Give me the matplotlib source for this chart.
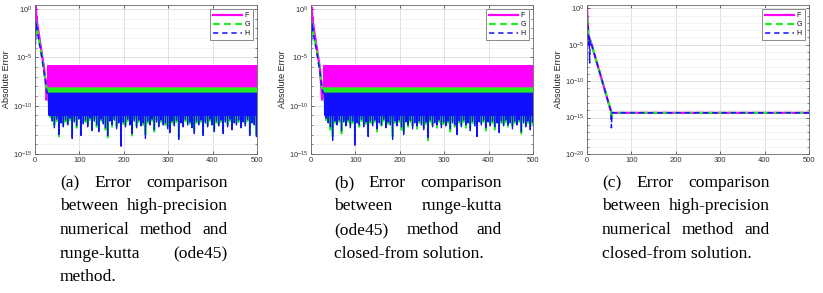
import numpy as np
import matplotlib
matplotlib.use("Agg")
import matplotlib.pyplot as plt
from matplotlib.ticker import FixedLocator, LogFormatterSciNotation, NullFormatter

# log10 of the absolute error
# start of the run (x = time)
a_head_x = [0, 1, 2, 3, 4, 5, 8, 12, 16, 20, 24, 26, 28]
a_f_head = [0.4, -0.5, 0.2, -1.0, -0.8, -1.5, -2.4, -3.6, -4.8, -6.0, -7.6, -9.4, -8.8]
a_g_head = [-1.0, -2.8, -1.2, -2.0, -1.8, -2.3, -3.0, -4.0, -5.1, -6.3, -7.5, -8.2, -8.4]
a_h_head = [-1.2, -3.6, -1.3, -2.2, -1.9, -2.4, -3.1, -4.1, -5.2, -6.4, -7.6, -8.4, -8.7]

b_head_x = [0, 1, 2, 3, 4, 5, 8, 12, 16, 20, 23, 25, 28]
b_f_head = [0.4, -0.6, 0.1, -1.1, -0.9, -1.6, -2.5, -3.7, -4.9, -6.1, -8.0, -9.4, -8.8]
b_g_head = [-1.1, -2.9, -1.3, -2.1, -1.9, -2.4, -3.1, -4.1, -5.2, -6.4, -7.4, -8.1, -8.4]
b_h_head = [-1.3, -3.7, -1.4, -2.3, -2.0, -2.5, -3.2, -4.2, -5.3, -6.5, -7.5, -8.3, -8.7]

# steady part from x = 30: every 5 units each series swings top -> floor -> top -> trough
tail_start = 30
tail_step = 5
a_f_top, a_g_top, a_h_top = -5.9, -8.2, -8.7
a_f_floor, a_g_floor, a_h_floor = -8.8, -10.8, -11.0
a_f_low = -8.8
a_g_low = [-11.2, -11.4, -12.0, -11.6, -13.2, -11.5, -12.0, -11.7, -11.8, -11.5,
           -13.0, -11.5, -12.3, -11.2, -12.8, -11.7, -11.7, -12.0, -11.5, -12.4,
           -11.4, -12.2, -12.5, -11.6, -11.7, -12.5, -13.3, -11.4, -12.2, -11.3,
           -12.2, -11.6, -13.8, -11.9, -12.0, -11.6, -11.8, -13.1, -11.4, -12.1,
           -11.7, -11.9, -12.0, -13.0, -11.8, -11.8, -11.6, -12.7, -11.5, -12.0,
           -11.7, -11.8, -12.0, -12.2, -12.5, -11.8, -11.9, -11.7, -13.3, -11.6,
           -12.0, -11.6, -11.8, -11.9, -12.1, -12.6, -11.8, -11.8, -11.7, -12.9,
           -11.6, -12.0, -11.6, -11.8, -12.5, -11.8, -11.9, -11.7, -12.7, -11.5,
           -12.0, -11.6, -12.3, -11.6, -11.8, -11.7, -12.1, -11.5, -11.9, -11.6,
           -12.9, -11.6, -11.8, -13.0, -11.8]
a_h_low = [-11.0, -11.6, -12.3, -11.4, -13.0, -11.8, -12.2, -11.5, -12.0, -11.3,
           -13.4, -11.7, -12.1, -11.4, -13.1, -11.9, -11.5, -12.2, -11.3, -12.6,
           -11.6, -12.0, -12.7, -11.4, -11.9, -12.3, -13.1, -11.6, -12.0, -11.5,
           -12.4, -11.8, -14.2, -11.7, -12.2, -11.4, -12.0, -12.9, -11.6, -12.3,
           -11.5, -12.1, -11.8, -13.4, -11.6, -12.0, -11.4, -12.5, -11.7, -12.2,
           -11.5, -12.0, -11.8, -12.4, -12.8, -11.6, -12.1, -11.5, -13.5, -11.8,
           -12.2, -11.4, -12.0, -11.7, -12.3, -12.9, -11.6, -12.0, -11.5, -13.1,
           -11.8, -12.2, -11.4, -12.0, -12.7, -11.6, -12.1, -11.5, -12.9, -11.7,
           -12.2, -11.4, -12.5, -11.8, -12.0, -11.5, -12.3, -11.7, -12.1, -11.4,
           -13.1, -11.8, -12.0, -13.2, -11.6]

b_f_top, b_g_top, b_h_top = -5.9, -8.2, -8.7
b_f_floor, b_g_floor, b_h_floor = -8.8, -10.8, -11.0
b_f_low = -8.8
b_g_low = [-11.5, -11.6, -12.5, -13.2, -11.8, -11.8, -11.7, -12.9, -11.5, -12.0,
           -11.7, -12.0, -11.8, -13.6, -11.6, -12.2, -11.6, -12.0, -11.9, -12.9,
           -11.8, -11.9, -11.7, -12.7, -11.6, -12.1, -11.6, -12.0, -11.9, -11.8,
           -13.2, -11.8, -11.9, -11.7, -12.5, -12.7, -11.5, -12.2, -11.7, -12.1,
           -11.6, -12.4, -11.8, -11.8, -12.3, -11.9, -13.6, -11.7, -12.0, -11.6,
           -12.3, -11.7, -12.0, -11.9, -11.9, -11.8, -12.7, -11.6, -12.2, -12.7,
           -11.8, -12.0, -11.7, -12.3, -11.6, -12.3, -11.8, -11.9, -12.9, -11.5,
           -11.8, -11.7, -12.6, -11.5, -11.9, -11.8, -12.5, -11.6, -12.5, -11.8,
           -11.9, -11.7, -12.2, -11.6, -12.1, -11.8, -11.8, -11.7, -12.9, -11.6,
           -12.0, -11.8, -12.2, -11.9, -11.8]
b_h_low = [-11.3, -11.8, -12.2, -13.6, -11.6, -12.0, -11.5, -12.6, -11.7, -12.1,
           -11.5, -12.3, -11.6, -14.1, -11.8, -12.0, -11.4, -12.2, -11.7, -13.2,
           -11.6, -12.1, -11.5, -12.4, -11.8, -12.0, -11.4, -12.3, -11.7, -12.0,
           -13.5, -11.6, -12.1, -11.5, -12.2, -13.0, -11.7, -12.0, -11.5, -12.4,
           -11.8, -12.1, -11.6, -12.0, -12.5, -11.7, -13.3, -11.5, -12.2, -11.8,
           -12.0, -11.5, -12.3, -11.7, -12.1, -11.6, -12.4, -11.8, -12.0, -13.0,
           -11.6, -12.2, -11.5, -12.0, -11.8, -12.6, -11.6, -12.1, -13.2, -11.7,
           -12.0, -11.5, -12.3, -11.7, -12.1, -11.6, -12.2, -11.8, -12.8, -11.6,
           -12.1, -11.5, -12.0, -11.8, -12.4, -11.6, -12.0, -11.5, -12.7, -11.8,
           -12.2, -11.6, -12.5, -11.7, -12.0]

# closed-form comparison
c_x = [0, 1, 2, 3, 4, 5, 6, 7, 8, 10, 20, 30, 40, 50, 54, 55, 56, 57, 500]
c_f = [0.4, -1.5, -2.3, -3.8, -4.3, -4.0, -4.4, -4.3, -4.5, -4.9, -7.0, -9.1, -11.2,
       -13.3, -14.1, -15.1, -14.35, -14.35, -14.35]
c_g = [-1.3, -1.8, -2.4, -4.2, -4.0, -4.1, -4.4, -4.5, -4.5, -4.9, -7.0, -9.1, -11.2,
       -13.3, -14.1, -15.3, -14.35, -14.35, -14.35]
c_h = [-2.0, -3.0, -2.5, -5.0, -3.8, -4.2, -7.5, -4.4, -4.5, -4.9, -7.0, -9.1, -11.2,
       -13.3, -14.1, -16.4, -14.35, -14.35, -14.35]

series_names = ["F", "G", "H"]
captions = [
    ["(a) Error comparison", "between high-precision", "numerical method and",
     "runge-kutta (ode45)", "method."],
    ["(b) Error comparison", "between runge-kutta", "(ode45) method and",
     "closed-from solution."],
    ["(c) Error comparison", "between high-precision", "numerical method and",
     "closed-from solution."],
]


def build(head_x, head, top, floor, lows):
    '''head points followed by the top/floor/top/trough swing'''
    if np.isscalar(lows):
        lows = [lows] * len(a_h_low)
    xs, ys = list(head_x), list(head)
    q = tail_step / 4
    for k, lo in enumerate(lows):
        x0 = tail_start + k * tail_step
        xs += [x0, x0 + q, x0 + 2 * q, x0 + 3 * q]
        ys += [top, floor, top, lo]
    return np.array(xs), 10.0 ** np.array(ys), len(head_x)


styles = [
    dict(color="#ff00ff", lw=1.6, ls="-"),
    dict(color="#22ee22", lw=1.6, ls=(0, (3, 2))),
    dict(color="#1010ff", lw=1.1, ls=(0, (3.5, 2.5))),
]

panels = [
    [build(a_head_x, a_f_head, a_f_top, a_f_floor, a_f_low),
     build(a_head_x, a_g_head, a_g_top, a_g_floor, a_g_low),
     build(a_head_x, a_h_head, a_h_top, a_h_floor, a_h_low)],
    [build(b_head_x, b_f_head, b_f_top, b_f_floor, b_f_low),
     build(b_head_x, b_g_head, b_g_top, b_g_floor, b_g_low),
     build(b_head_x, b_h_head, b_h_top, b_h_floor, b_h_low)],
    [(np.array(c_x), 10.0 ** np.array(c_f), len(c_x)),
     (np.array(c_x), 10.0 ** np.array(c_g), len(c_x)),
     (np.array(c_x), 10.0 ** np.array(c_h), len(c_x))],
]

plt.rcParams["font.family"] = ["Liberation Sans", "DejaVu Sans"]
fig = plt.figure(figsize=(8.23, 2.93), dpi=100)
W, H = 823, 293

ax_lefts = [35, 311, 587]
ax_w, ax_top, ax_bot = 222, 5, 154
ylims = [(1e-15, 10 ** 0.4), (1e-15, 10 ** 0.4), (1e-20, 10 ** 0.45)]

for i, lines in enumerate(panels):
    ax = fig.add_axes([ax_lefts[i] / W, (H - ax_bot) / H, ax_w / W, (ax_bot - ax_top) / H])
    for (x, y, nh), name, st in zip(lines, series_names, styles):
        ax.plot(x[:nh + 1], y[:nh + 1], label=name, **st)
        if nh < len(x):
            # dense swing: dashes vanish at this density, draw it solid
            ax.plot(x[nh - 1:], y[nh - 1:], color=st["color"], lw=st["lw"] * 0.8)
    ax.set_yscale("log")
    ax.set_xlim(0, 500)
    ax.set_ylim(*ylims[i])
    lo = int(np.log10(ylims[i][0]))
    ax.yaxis.set_major_locator(FixedLocator(10.0 ** np.arange(lo, 1, 5)))
    ax.yaxis.set_major_formatter(LogFormatterSciNotation())
    ax.yaxis.set_minor_locator(FixedLocator(10.0 ** np.arange(lo, 1, 1)))
    ax.yaxis.set_minor_formatter(NullFormatter())
    ax.set_xticks([0, 100, 200, 300, 400, 500])
    ax.grid(True, which="major", color="#dcdcdc", lw=0.6)
    ax.grid(True, which="minor", axis="y", color="#eeeeee", lw=0.5)
    ax.set_axisbelow(True)
    ax.tick_params(which="both", direction="in", top=True, right=True,
                   labelsize=5.5, colors="#333333", pad=2)
    ax.tick_params(which="major", length=2.5, width=0.5)
    ax.tick_params(which="minor", length=1.5, width=0.4)
    for sp in ax.spines.values():
        sp.set_color("#666666")
        sp.set_linewidth(0.6)
    ax.set_ylabel("Absolute Error", fontsize=6.5, color="#222222", labelpad=1)
    leg = ax.legend(loc="upper right", fontsize=5, handlelength=4.2, handletextpad=0.4,
                    labelspacing=0.3, borderpad=0.4, borderaxespad=0.6,
                    fancybox=False, framealpha=1)
    leg.get_frame().set_edgecolor("#777777")
    leg.get_frame().set_linewidth(0.6)

# captions, justified like the paper's columns
cap_left = [60, 334, 602]
cap_width = 168
cap_size = 12.6
line_y0, line_gap = 183, 23.5
renderer = fig.canvas.get_renderer()
for i, cap in enumerate(captions):
    for j, line in enumerate(cap):
        y = 1 - (line_y0 + j * line_gap) / H
        words = line.split()
        x0 = cap_left[i]
        if j == len(cap) - 1:
            fig.text(x0 / W, y, line, fontsize=cap_size, family="Liberation Serif",
                     va="center")
            continue
        texts = [fig.text(0, y, w_, fontsize=cap_size, family="Liberation Serif",
                          va="center") for w_ in words]
        widths = [t.get_window_extent(renderer).width for t in texts]
        gap = max((cap_width - sum(widths)) / (len(words) - 1), 3.0)
        xpos = x0
        for t, wd in zip(texts, widths):
            t.set_x(xpos / W)
            xpos += wd + gap

fig.savefig("out.png", dpi=100)
